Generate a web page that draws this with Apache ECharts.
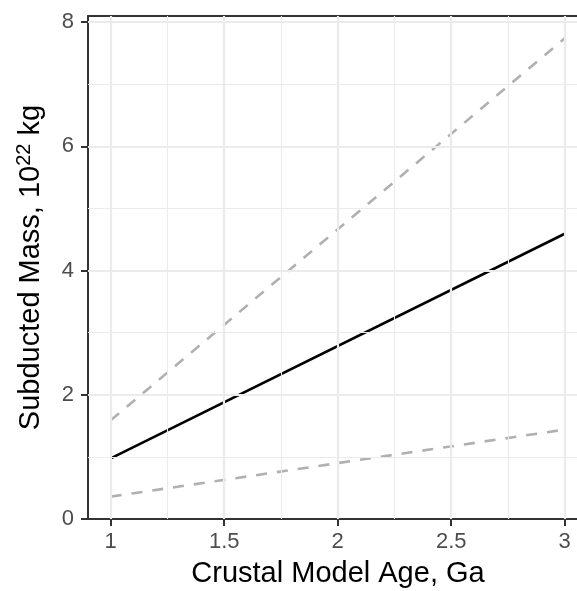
<!DOCTYPE html>
<html><head><meta charset="utf-8">
<script src="https://cdn.jsdelivr.net/npm/echarts@6/dist/echarts.min.js"></script>
<style>html,body{margin:0;padding:0;background:#fff}#c{width:577px;height:591px}</style>
</head><body><div id="c"></div>
<script>
const xTicks = [1, 1.5, 2, 2.5, 3];
const xMinor = [1.25, 1.75, 2.25, 2.75];
const yTicks = [0, 2, 4, 6, 8];
const yMinor = [1, 3, 5, 7];
const ages = [1, 3];
const central = [0.977, 4.594];
const upper = [1.59, 7.74];
const lower = [0.36, 1.44];

const chart = echarts.init(document.getElementById('c'), null, {renderer: 'canvas'});
const pair = arr => ages.map((a, i) => [a, arr[i]]);
const gridMajor = '#EBEBEB';
const font = 'Liberation Sans, Arial, sans-serif';
const axisCol = '#333333';
chart.setOption({
  animation: false,
  grid: {left: 88, top: 16, right: 0, bottom: 72, show: false, containLabel: false, outerBoundsMode: 'none'},
  xAxis: [{
    type: 'value', min: 0.9, max: 3.054,
    name: 'Crustal Model Age, Ga', nameLocation: 'middle', nameGap: 40,
    nameTextStyle: {fontSize: 29, color: '#000', fontFamily: font, padding: [0, 0, 0, 11]},
    axisLine: {show: true, lineStyle: {color: axisCol, width: 2}},
    axisTick: {show: true, length: 7, lineStyle: {color: axisCol, width: 2}, customValues: xTicks},
    axisLabel: {fontSize: 22, color: '#4D4D4D', fontFamily: font, margin: 12, customValues: xTicks},
    splitLine: {show: false}
  }, {
    type: 'value', min: 0.9, max: 3.054, position: 'top',
    axisLine: {show: true, onZero: false, lineStyle: {color: axisCol, width: 2}},
    axisTick: {show: false}, axisLabel: {show: false}, splitLine: {show: false}
  }],
  yAxis: {
    type: 'value', min: 0, max: 8.1,
    name: 'Subducted Mass, 10{sup|22} kg', nameLocation: 'middle', nameGap: 40, nameRotate: 90,
    nameTextStyle: {fontSize: 29, color: '#000', fontFamily: font,
      rich: {sup: {fontSize: 20, color: '#000', fontFamily: font, padding: [0, 0, 14, 0]}}},
    axisLine: {show: true, lineStyle: {color: axisCol, width: 2}},
    axisTick: {show: true, length: 7, lineStyle: {color: axisCol, width: 2}, customValues: yTicks},
    axisLabel: {fontSize: 22, color: '#4D4D4D', fontFamily: font, margin: 14, customValues: yTicks},
    splitLine: {show: false}
  },
  series: [
    {type: 'line', data: [], silent: true, z: 1,
      markLine: {silent: true, symbol: 'none', label: {show: false}, animation: false,
        lineStyle: {color: gridMajor, width: 1.1, type: 'solid'},
        data: xMinor.map(v => ({xAxis: v})).concat(yMinor.map(v => ({yAxis: v})))}},
    {type: 'line', data: [], silent: true, z: 1,
      markLine: {silent: true, symbol: 'none', label: {show: false}, animation: false,
        lineStyle: {color: gridMajor, width: 2.2, type: 'solid'},
        data: xTicks.map(v => ({xAxis: v})).concat(yTicks.filter(v => v > 0).map(v => ({yAxis: v})))}},
    {type: 'line', data: pair(upper), symbol: 'none', z: 3,
      lineStyle: {color: '#B0B0B0', width: 2.6, type: [11, 10]}},
    {type: 'line', data: pair(lower), symbol: 'none', z: 3,
      lineStyle: {color: '#B0B0B0', width: 2.6, type: [11, 10]}},
    {type: 'line', data: pair(central), symbol: 'none', z: 4,
      lineStyle: {color: '#000000', width: 2.6}}
  ]
});
</script></body></html>
